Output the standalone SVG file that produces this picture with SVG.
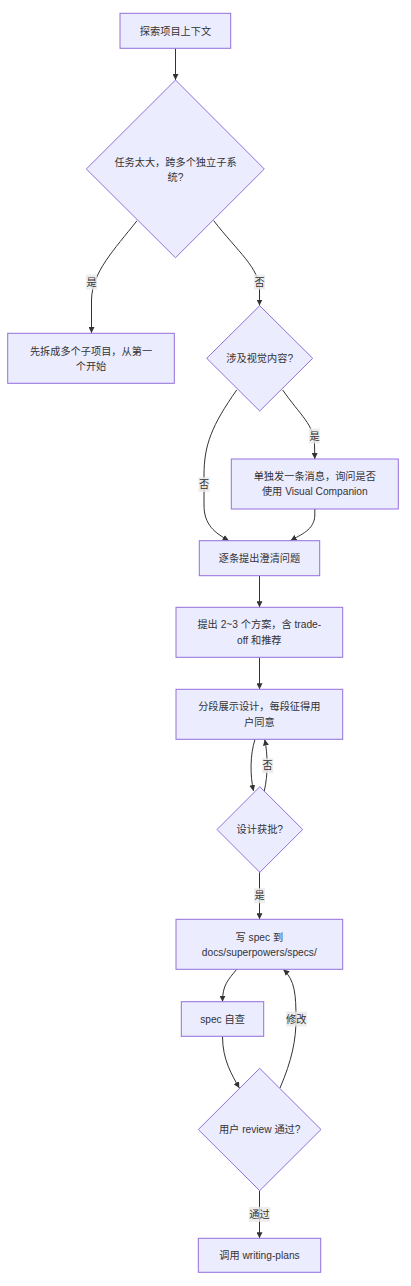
<svg xmlns="http://www.w3.org/2000/svg" width="411" height="1286" viewBox="0 0 411 1286">
<style>
.n{fill:#ECECFF;stroke:#9370DB;stroke-width:1}
.t{font-family:"Liberation Sans","Noto Sans CJK SC",sans-serif;font-size:10.2px;fill:#333;text-anchor:middle;dominant-baseline:central}
.e{fill:none;stroke:#333;stroke-width:1}
.lb{fill:#E8E8E8;fill-opacity:0.8}
</style>
<defs>
<marker id="arr" viewBox="0 0 10 10" refX="10" refY="5" markerUnits="userSpaceOnUse" markerWidth="6" markerHeight="6" orient="auto">
<path d="M0,0 L10,5 L0,10 z" fill="#333"/>
</marker>
</defs>
<rect width="411" height="1286" fill="#fff"/>
<g id="edges">
<path class="e" marker-end="url(#arr)" d="M175.5,48.3 L175.5,80"/>
<path class="e" marker-end="url(#arr)" d="M137,220.7 C114,250 92,272 91.5,300 L91.5,333"/>
<path class="e" marker-end="url(#arr)" d="M213.7,220.7 C238,252 259.5,268 259.5,290 L259.5,305.5"/>
<path class="e" marker-end="url(#arr)" d="M282.7,390 C300,415 314.5,425 314.5,445 L314.8,459"/>
<path class="e" marker-end="url(#arr)" d="M236.7,390 C212,425 204,445 204,475 L204,505 C204,525 215,533 228.7,540.5"/>
<path class="e" marker-end="url(#arr)" d="M314.8,509 L314.8,515 C314.8,530 300,535 290.7,540.5"/>
<path class="e" marker-end="url(#arr)" d="M259.5,575.7 L259.5,607.3"/>
<path class="e" marker-end="url(#arr)" d="M259.5,657.3 L259.5,689.3"/>
<path class="e" marker-end="url(#arr)" d="M255,739.3 C250,755 250,775 253.5,791"/>
<path class="e" marker-end="url(#arr)" d="M264.3,791 C268,775 268,755 264.7,739.5"/>
<path class="e" marker-end="url(#arr)" d="M259.5,872.3 L259.5,919.3"/>
<path class="e" marker-end="url(#arr)" d="M236.7,969.3 C228,980 222.5,985 222.5,1001.7"/>
<path class="e" marker-end="url(#arr)" d="M222.5,1036.3 C222.5,1060 232,1075 239.3,1088"/>
<path class="e" marker-end="url(#arr)" d="M280,1088 C292,1060 296,1040 296,1019 C296,995 295,980 283.3,969.5"/>
<path class="e" marker-end="url(#arr)" d="M259.5,1190.7 L259.5,1238.3"/>
<rect class="lb" x="86" y="274.5" width="11" height="15"/>
<text class="t" x="91.5" y="282">是</text>
<rect class="lb" x="254" y="274.5" width="11" height="15"/>
<text class="t" x="259.5" y="282">否</text>
<rect class="lb" x="309" y="428.5" width="11" height="15"/>
<text class="t" x="314.5" y="436">是</text>
<rect class="lb" x="198.5" y="477" width="11" height="15"/>
<text class="t" x="204" y="484.5">否</text>
<rect class="lb" x="262.2" y="758.2" width="11" height="15"/>
<text class="t" x="267.7" y="765.7">否</text>
<rect class="lb" x="254" y="888.2" width="11" height="15"/>
<text class="t" x="259.5" y="895.7">是</text>
<rect class="lb" x="286" y="1011.5" width="21" height="15"/>
<text class="t" x="296.3" y="1019">修改</text>
<rect class="lb" x="249" y="1206.8" width="21" height="15"/>
<text class="t" x="259.5" y="1214.3">通过</text>
</g>
<g id="A">
<rect class="n" x="120" y="13.3" width="110.7" height="35"/>
<text class="t" x="175.5" y="31">探索项目上下文</text>
</g>
<g id="B">
<polygon class="n" points="175.5,80 264.3,169 175.5,257.7 86.3,169"/>
<text class="t" x="175.5" y="162">任务太大，跨多个独立子系</text>
<text class="t" x="175.5" y="177">统?</text>
</g>
<g id="C">
<rect class="n" x="7.7" y="333.3" width="166.6" height="50"/>
<text class="t" x="91" y="351">先拆成多个子项目，从第一</text>
<text class="t" x="91" y="366.5">个开始</text>
</g>
<g id="D">
<polygon class="n" points="259.7,305.7 312.7,358.3 259.7,411 206.7,358.3"/>
<text class="t" x="259.7" y="358.3">涉及视觉内容?</text>
</g>
<g id="E">
<rect class="n" x="231.3" y="459" width="167" height="50"/>
<text class="t" x="314.8" y="476.7">单独发一条消息，询问是否</text>
<text class="t" x="314.8" y="491.7">使用 Visual Companion</text>
</g>
<g id="F">
<rect class="n" x="199.3" y="540.7" width="120.4" height="35"/>
<text class="t" x="259.5" y="558">逐条提出澄清问题</text>
</g>
<g id="G">
<rect class="n" x="176" y="607.3" width="166.7" height="50"/>
<text class="t" x="259.3" y="624.3">提出 2~3 个方案，含 trade-</text>
<text class="t" x="259.3" y="640">off 和推荐</text>
</g>
<g id="H">
<rect class="n" x="176" y="689.3" width="166.7" height="50"/>
<text class="t" x="259.3" y="706.7">分段展示设计，每段征得用</text>
<text class="t" x="259.3" y="722.3">户同意</text>
</g>
<g id="I">
<polygon class="n" points="259.8,786.7 302.7,829.5 259.8,872.3 217,829.5"/>
<text class="t" x="259.8" y="829.5">设计获批?</text>
</g>
<g id="J">
<rect class="n" x="176" y="919.3" width="166.7" height="50"/>
<text class="t" x="259.3" y="937.7">写 spec 到</text>
<text class="t" x="259.3" y="952.7">docs/superpowers/specs/</text>
</g>
<g id="K">
<rect class="n" x="181.3" y="1001.7" width="82.4" height="34.6"/>
<text class="t" x="222.5" y="1019">spec 自查</text>
</g>
<g id="L">
<polygon class="n" points="259.7,1068.3 321,1129.5 259.7,1190.7 198.3,1129.5"/>
<text class="t" x="259.7" y="1129.5">用户 review 通过?</text>
</g>
<g id="M">
<rect class="n" x="198.3" y="1238.3" width="122.4" height="34"/>
<text class="t" x="259.5" y="1255.3">调用 writing-plans</text>
</g>
</svg>
